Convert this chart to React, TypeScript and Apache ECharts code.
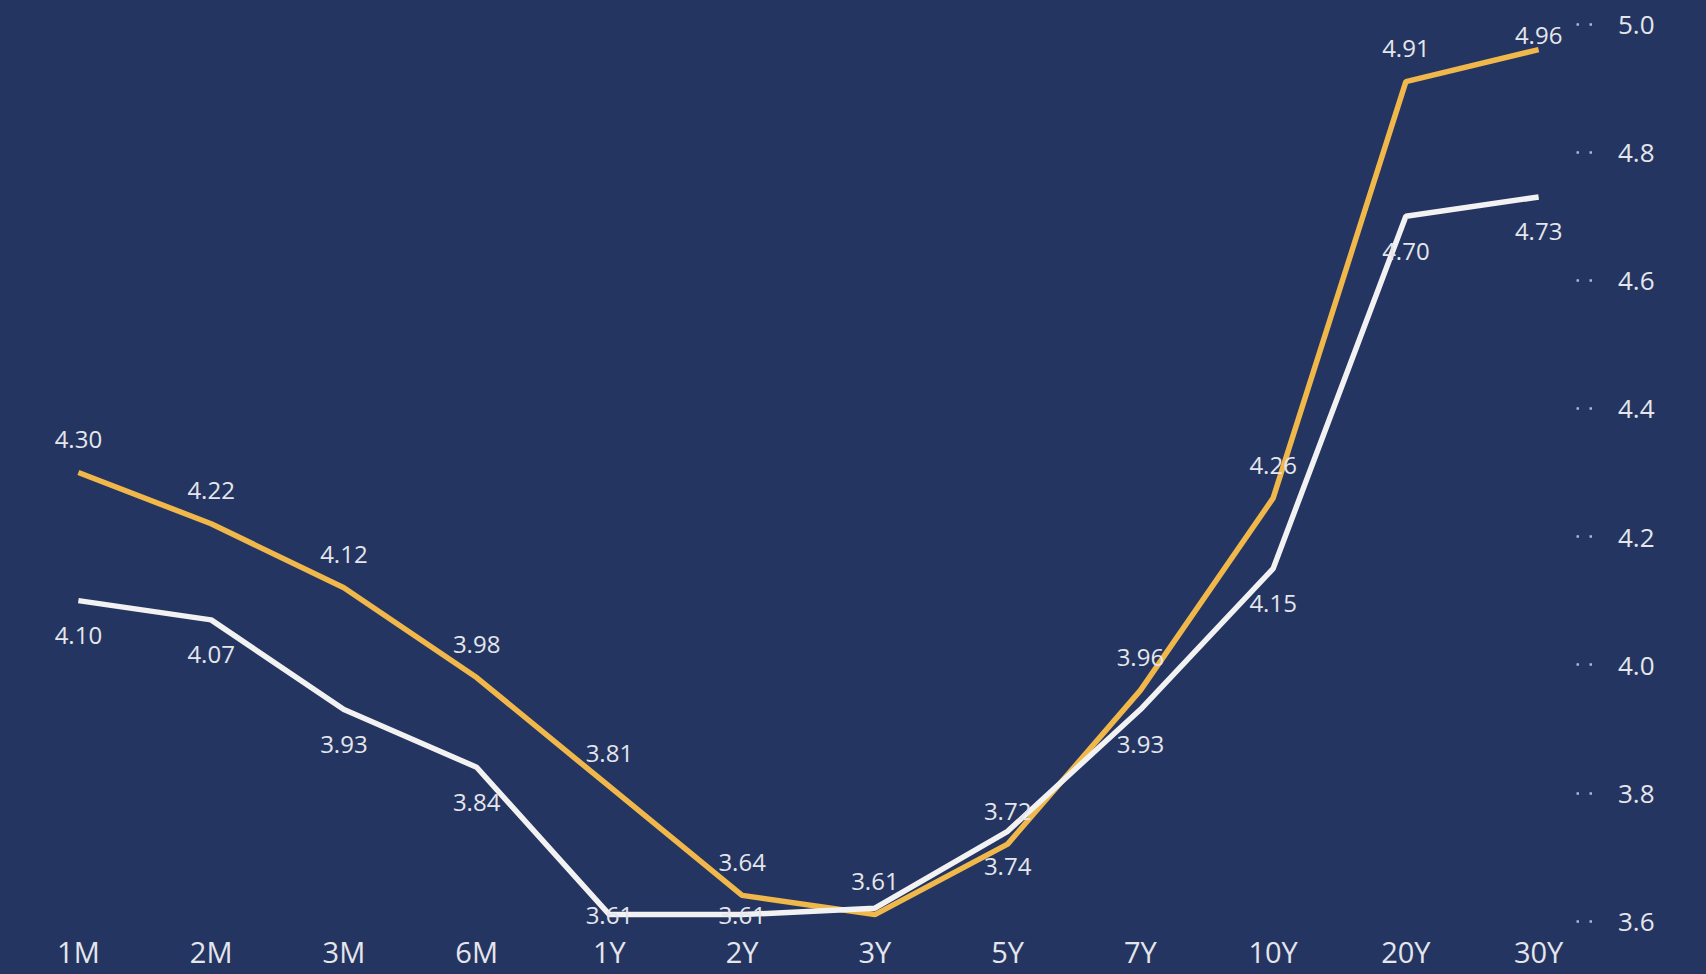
import React, { useEffect, useRef } from "react";
import * as echarts from "echarts";

const categories = ["1M", "2M", "3M", "6M", "1Y", "2Y", "3Y", "5Y", "7Y", "10Y", "20Y", "30Y"];
const goldValues = [4.3, 4.22, 4.12, 3.98, 3.81, 3.64, 3.61, 3.72, 3.96, 4.26, 4.91, 4.96];
const whiteValues = [4.1, 4.07, 3.93, 3.84, 3.61, 3.61, 3.62, 3.74, 3.93, 4.15, 4.7, 4.73];
const yMin = 3.6;
const yMax = 5.0;
const yInterval = 0.2;

const whiteInsideIdx = [4, 5];
const whiteHiddenIdx = [6];
const goldNearIdx = [11];

const FONT = "'Open Sans', 'Noto Sans', sans-serif";
const BG = "#253561";
const GOLD = "#F0B74A";
const WHITE = "#F2F2F2";
const LABEL = "#E4E6EC";

export default function App() {
  const ref = useRef<HTMLDivElement>(null);
  useEffect(() => {
    if (!ref.current) return;
    const chart = echarts.init(ref.current, undefined, { renderer: "svg" });
    const fmt = (p: any) => Number(p.value).toFixed(2);
    const goldData = goldValues.map((v, i) =>
      goldNearIdx.includes(i) ? { value: v, label: { distance: 3 } } : v
    );
    const whiteData = whiteValues.map((v, i) => {
      if (whiteHiddenIdx.includes(i)) return { value: v, label: { show: false } };
      if (whiteInsideIdx.includes(i)) return { value: v, label: { position: "inside" } };
      return v;
    });
    chart.setOption({
      animation: false,
      backgroundColor: BG,
      grid: { left: 12, right: 101, top: 24, bottom: 53, containLabel: false },
      xAxis: {
        type: "category",
        data: categories,
        boundaryGap: true,
        axisLine: { show: false },
        axisTick: { show: false },
        axisLabel: { color: LABEL, fontSize: 29, fontFamily: FONT, margin: 16 },
        splitLine: { show: false },
      },
      yAxis: {
        type: "value",
        position: "right",
        offset: -13,
        min: yMin,
        max: yMax,
        interval: yInterval,
        axisLine: { show: false },
        axisTick: {
          show: true,
          inside: true,
          length: 16,
          lineStyle: { color: "#AEB6CC", width: 2.5, type: [2.5, 10.5] },
        },
        splitLine: { show: false },
        axisLabel: {
          color: LABEL,
          fontSize: 26,
          fontFamily: FONT,
          margin: 26,
          formatter: (v: number) => v.toFixed(1),
        },
      },
      series: [
        {
          type: "line",
          data: goldData,
          symbol: "circle",
          symbolSize: 0,
          showSymbol: true,
          lineStyle: { color: GOLD, width: 5.5 },
          itemStyle: { color: GOLD },
          label: {
            show: true,
            position: "top",
            distance: 22,
            color: LABEL,
            fontSize: 24,
            fontFamily: FONT,
            formatter: fmt,
          },
        },
        {
          type: "line",
          data: whiteData,
          symbol: "circle",
          symbolSize: 0,
          showSymbol: true,
          lineStyle: { color: WHITE, width: 5.5 },
          itemStyle: { color: WHITE },
          label: {
            show: true,
            position: "bottom",
            distance: 22,
            color: LABEL,
            fontSize: 24,
            fontFamily: FONT,
            formatter: fmt,
          },
        },
      ],
    });
    return () => chart.dispose();
  }, []);
  return (
    <div
      ref={ref}
      style={{ position: "fixed", left: 0, top: 0, width: 1706, height: 974 }}
    />
  );
}
